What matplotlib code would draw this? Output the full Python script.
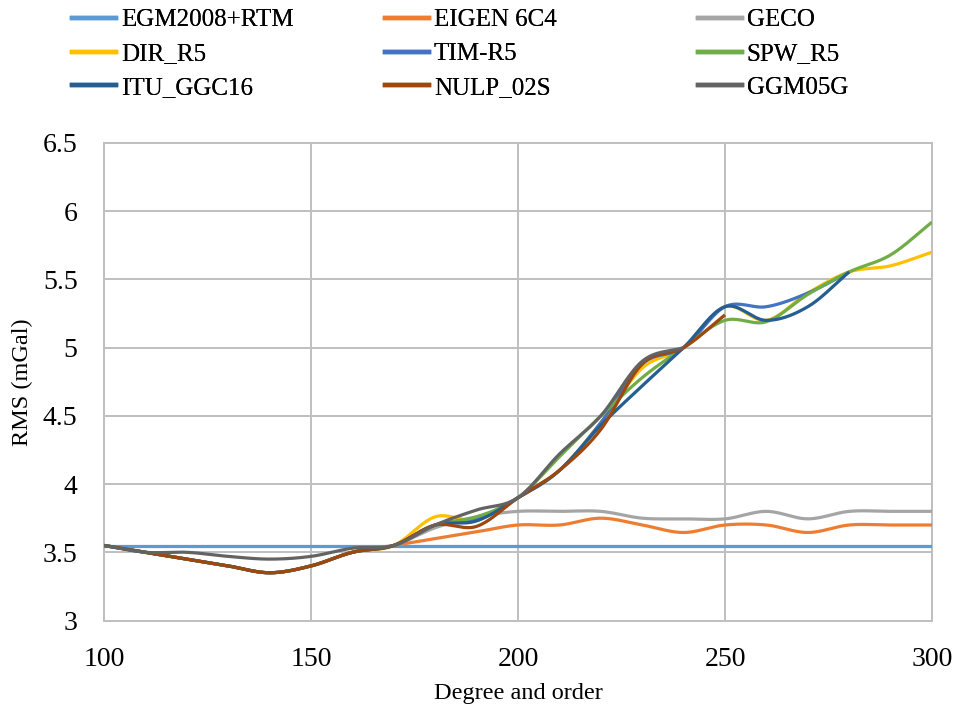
import numpy as np
import matplotlib
matplotlib.use("Agg")
import matplotlib.pyplot as plt
from matplotlib.lines import Line2D

plt.rcParams['font.family'] = ['Liberation Serif', 'DejaVu Serif']

# ---- data ----
degrees = [100, 110, 120, 130, 140, 150, 160, 170, 180, 190, 200, 210, 220,
           230, 240, 250, 260, 270, 280, 290, 300]
low_common = [3.55, 3.5, 3.45, 3.4, 3.35, 3.4, 3.5, 3.55]

egm2008_rtm = [3.546] * 21
eigen_6c4 = low_common + [3.6, 3.65, 3.7, 3.7, 3.75, 3.7, 3.645, 3.7, 3.7, 3.645, 3.7, 3.7, 3.7]
geco = low_common + [3.68, 3.76, 3.8, 3.8, 3.8, 3.75, 3.745, 3.745, 3.8, 3.745, 3.8, 3.8, 3.8]
dir_r5 = low_common + [3.76, 3.74, 3.9, 4.1, 4.45, 4.85, 5.0, 5.3, 5.2, 5.4, 5.555, 5.6, 5.7]
tim_r5 = low_common + [3.7, 3.75, 3.9, 4.1, 4.45, 4.88, 5.0, 5.3, 5.3, 5.4, 5.555]
spw_r5 = low_common + [3.7, 3.76, 3.9, 4.2, 4.5, 4.78, 5.0, 5.2, 5.19, 5.39, 5.555, 5.68, 5.92]
itu_ggc16 = low_common + [3.7, 3.73, 3.9, 4.1, 4.43, 4.72, 5.0, 5.3, 5.2, 5.3, 5.555]
nulp_02s = low_common + [3.7, 3.69, 3.9, 4.1, 4.4, 4.88, 5.0, 5.24]
ggm05g = [3.55, 3.5, 3.5, 3.47, 3.45, 3.47, 3.53, 3.55, 3.7, 3.81, 3.9, 4.22, 4.5, 4.9, 5.0]

series_names = ["EGM2008+RTM", "EIGEN 6C4", "GECO", "DIR_R5", "TIM-R5", "SPW_R5",
                "ITU_GGC16", "NULP_02S", "GGM05G"]
series_values = [egm2008_rtm, eigen_6c4, geco, dir_r5, tim_r5, spw_r5,
                 itu_ggc16, nulp_02s, ggm05g]
colors = ["#5B9BD5", "#ED7D31", "#A5A5A5", "#FFC000", "#4472C4", "#70AD47",
          "#255E91", "#9E480E", "#636363"]

y_ticks = [3, 3.5, 4, 4.5, 5, 5.5, 6, 6.5]
y_tick_labels = ["3", "3.5", "4", "4.5", "5", "5.5", "6", "6.5"]
x_ticks = [100, 150, 200, 250, 300]


def smooth(x, y, n=20):
    """Catmull-Rom smoothing like Excel's smoothed lines."""
    x = np.asarray(x, float)
    y = np.asarray(y, float)
    if len(x) < 3:
        return x, y
    px = np.concatenate([[2 * x[0] - x[1]], x, [2 * x[-1] - x[-2]]])
    py = np.concatenate([[2 * y[0] - y[1]], y, [2 * y[-1] - y[-2]]])
    xs, ys = [], []
    t = np.linspace(0, 1, n, endpoint=False)
    for i in range(1, len(px) - 2):
        p0x, p1x, p2x, p3x = px[i - 1:i + 3]
        p0y, p1y, p2y, p3y = py[i - 1:i + 3]
        c1x = p1x + (p2x - p0x) / 6
        c1y = p1y + (p2y - p0y) / 6
        c2x = p2x - (p3x - p1x) / 6
        c2y = p2y - (p3y - p1y) / 6
        bx = ((1 - t) ** 3) * p1x + 3 * ((1 - t) ** 2) * t * c1x + 3 * (1 - t) * t ** 2 * c2x + t ** 3 * p2x
        by = ((1 - t) ** 3) * p1y + 3 * ((1 - t) ** 2) * t * c1y + 3 * (1 - t) * t ** 2 * c2y + t ** 3 * p2y
        xs.append(bx)
        ys.append(by)
    xs.append([x[-1]])
    ys.append([y[-1]])
    return np.concatenate(xs), np.concatenate(ys)


fig = plt.figure(figsize=(9.57, 7.09), dpi=100)
ax = fig.add_axes([104 / 957, 1 - 620.5 / 709, (932 - 104) / 957, (620.5 - 143) / 709])

handles = []
for name, vals, c in zip(series_names, series_values, colors):
    xs = degrees[:len(vals)]
    sx, sy = smooth(xs, vals)
    ax.plot(sx, sy, color=c, lw=2.3, solid_capstyle='butt', zorder=3)
    handles.append(Line2D([], [], color=c, lw=3.2, label=name))

ax.set_xlim(100, 300)
ax.set_ylim(3, 6.5)
ax.set_xticks(x_ticks)
ax.set_yticks(y_ticks)
ax.set_yticklabels(y_tick_labels)
ax.tick_params(axis='both', length=0, labelsize=20)
ax.tick_params(axis='y', pad=19)
ax.tick_params(axis='x', pad=19)
ax.grid(True, color="#BFBFBF", lw=1.4)
ax.set_axisbelow(True)
for s in ax.spines.values():
    s.set_color("#BFBFBF")
    s.set_linewidth(1.4)

ax.set_xlabel("Degree and order", fontsize=17.5, labelpad=8)
ax.set_ylabel("RMS (mGal)", fontsize=17.5, labelpad=7)

# legend: three columns
col_x = [72 / 957, 385 / 957, 698 / 957]
for ci in range(3):
    hs = [handles[ci + 3 * r] for r in range(3)]
    leg = fig.legend(handles=hs, loc='upper left', bbox_to_anchor=(col_x[ci], 1 - 9 / 709),
                     frameon=False, fontsize=18, handlelength=1.75, handletextpad=0.2,
                     labelspacing=0.45, borderaxespad=0, borderpad=0)
    fig.add_artist(leg)

fig.savefig("out.png", dpi=100)
